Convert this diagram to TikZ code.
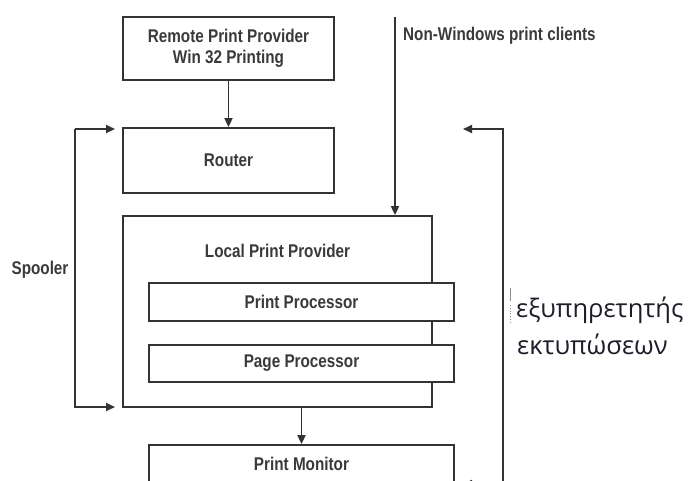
\documentclass[tikz,border=0pt]{standalone}
\usepackage{fontspec}
\setmainfont{Liberation Sans}
\newfontfamily\diagfont[FakeStretch=0.83]{Liberation Sans Bold}
\newfontfamily\greekfont{Open Sans}
\usetikzlibrary{arrows.meta}
\definecolor{ink}{HTML}{333333}
\definecolor{tink}{HTML}{3A3A3A}
\definecolor{gtext}{HTML}{1E1E2A}
\tikzset{
  box/.style={draw=ink, line width=1.8pt, fill=white, minimum width=#1, inner sep=0pt, text=tink, font=\diagfont\fontsize{18.4}{21}\selectfont, align=center},
  conn/.style={draw=ink, line width=1.8pt, -{Triangle[length=9pt,width=8pt]}},
  lbl/.style={text=tink, font=\diagfont\fontsize{18.4}{21}\selectfont, inner sep=0pt},
  glbl/.style={text=gtext, font=\greekfont\fontsize{25.5}{30}\selectfont, inner sep=0pt, anchor=base west}
}
\begin{document}
\begin{tikzpicture}[x=1pt,y=-1pt]
\useasboundingbox (0,0) rectangle (688,480);
\clip (0,0) rectangle (688,480);
% boxes
\node[box=211pt, minimum height=63pt] (remote) at (228.5,48.5) {Remote Print Provider\\Win 32 Printing};
\node[box=211pt, minimum height=65pt] (router) at (228.5,160.5) {Router};
\node[box=309pt, minimum height=191pt] (local) at (277.5,311.5) {};
\node[lbl] (locallbl) at (277.5,251) {Local Print Provider};
\node[box=305pt, minimum height=38pt] (pproc) at (301.5,302) {Print Processor};
\node[box=305pt, minimum height=37pt] (pgproc) at (301.5,363.5) {Page Processor};
\node[box=305pt, minimum height=37pt] (monitor) at (301.5,463.5) {Print Monitor};
% connectors
\draw[conn] (remote.south) -- (router.north);
\coordinate (lb) at (local.south -| monitor.north);
\draw[conn] (lb) -- (monitor.north);
\coordinate (nwtop) at (395,17);
\draw[conn] (nwtop) -- (nwtop |- local.north);
\node[lbl, anchor=west] (nwlbl) at (403,36) {Non-Windows print clients};
% spooler bracket
\coordinate (sp1) at (75,129);
\coordinate (sp2) at (75,407);
\coordinate (spt1) at (115,129);
\coordinate (spt2) at (115,407);
\draw[conn] (sp1) -- (sp2) -- (spt2);
\draw[conn] (sp1) -- (spt1);
\node[lbl] (spooler) at (40,270) {Spooler};
% right bracket
\coordinate (rb1) at (503,129);
\coordinate (rb2) at (503,484);
\coordinate (rt1) at (463,129);
\coordinate (rt2) at (463,484);
\draw[conn] (rb2) -- (rb1) -- (rt1);
\draw[conn] (rb2) -- (rt2);
% greek label
\draw[black!45, line width=0.8pt] (510,288) -- (510,301);
\draw[black!45, line width=0.8pt, dotted] (510,305) -- (510,323);
\node[glbl] (g1) at (516,317) {εξυπηρετητής};
\node[glbl] (g2) at (517,354) {εκτυπώσεων};
\end{tikzpicture}
\end{document}
